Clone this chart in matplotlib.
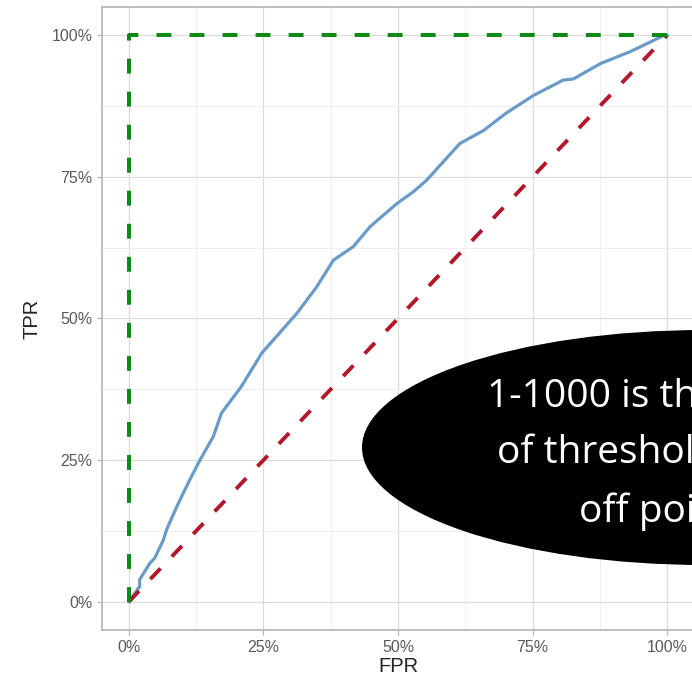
import matplotlib.pyplot as plt
from matplotlib.patches import Ellipse
from matplotlib.ticker import PercentFormatter

# ROC curve
fpr = [0, 0.006, 0.020, 0.020, 0.039, 0.048, 0.064, 0.070, 0.089, 0.113, 0.132,
       0.157, 0.172, 0.209, 0.247, 0.312, 0.349, 0.380, 0.417, 0.448, 0.498,
       0.529, 0.553, 0.615, 0.659, 0.700, 0.752, 0.807, 0.826, 0.876, 0.931,
       0.975, 0.994, 1.0]
tpr = [0, 0.008, 0.027, 0.039, 0.068, 0.077, 0.109, 0.127, 0.168, 0.215, 0.250,
       0.292, 0.333, 0.380, 0.439, 0.509, 0.556, 0.603, 0.627, 0.662, 0.703,
       0.724, 0.744, 0.809, 0.832, 0.862, 0.894, 0.921, 0.923, 0.950, 0.971,
       0.991, 1.0, 1.0]

# reference lines
perfect_x = [0, 0, 1]
perfect_y = [0, 1, 1]
random_x = [0, 1]
random_y = [0, 1]

ticks = [0, 0.25, 0.5, 0.75, 1.0]
minor_ticks = [0.125, 0.375, 0.625, 0.875]

note_lines = ["1-1000 is the range", "of threshold cut-", "off points"]

plt.rcParams['font.family'] = ['Liberation Sans', 'DejaVu Sans']

fig = plt.figure(figsize=(6.92, 6.81), dpi=100)
ax = fig.add_axes([102 / 692, 1 - 630 / 681, 592 / 692, 623 / 681])

ax.plot(fpr, tpr, color='#6a9bc8', lw=2.3, solid_joinstyle='round', zorder=3)
ax.plot(random_x, random_y, color='#b2182b', lw=2.8, dashes=(3.8, 4.2), zorder=4)
ax.plot(perfect_x, perfect_y, color='#0f8a17', lw=2.9, dashes=(3.7, 4.5), zorder=5)

ax.set_xlim(-0.05, 1.05)
ax.set_ylim(-0.05, 1.05)
ax.set_xticks(ticks)
ax.set_yticks(ticks)
ax.set_xticks(minor_ticks, minor=True)
ax.set_yticks(minor_ticks, minor=True)
ax.xaxis.set_major_formatter(PercentFormatter(1.0, decimals=0))
ax.yaxis.set_major_formatter(PercentFormatter(1.0, decimals=0))

ax.grid(which='major', color='#dcdcdc', lw=0.9)
ax.grid(which='minor', color='#ededed', lw=0.6)
ax.set_axisbelow(True)
ax.tick_params(which='major', length=3.5, width=0.9, color='#b3b3b3',
               labelcolor='#5a5a5a', labelsize=11.5, pad=3.5)
ax.tick_params(which='minor', length=0)
for side in ['left', 'top', 'bottom']:
    ax.spines[side].set_color('#b3b3b3')
    ax.spines[side].set_linewidth(1.2)
ax.spines['right'].set_visible(False)

ax.set_xlabel('FPR', fontsize=14.5, color='#222222', labelpad=2)
ax.set_ylabel('TPR', fontsize=14.5, color='#222222', labelpad=7)

# black call-out ellipse, cut off at the right edge like the source
fig.add_artist(Ellipse((705 / 692, 1 - 447.5 / 681), 686 / 692, 235 / 681,
                       transform=fig.transFigure, facecolor='black',
                       edgecolor='none', zorder=10))
line_x = [487, 497, 579]
line_y = [407, 463, 522]
for txt, lx, ly in zip(note_lines, line_x, line_y):
    fig.text(lx / 692, 1 - ly / 681, txt, color='white', fontsize=28,
             family=['Open Sans', 'DejaVu Sans'], ha='left', va='baseline',
             zorder=11)

fig.savefig('out.png', dpi=100)
